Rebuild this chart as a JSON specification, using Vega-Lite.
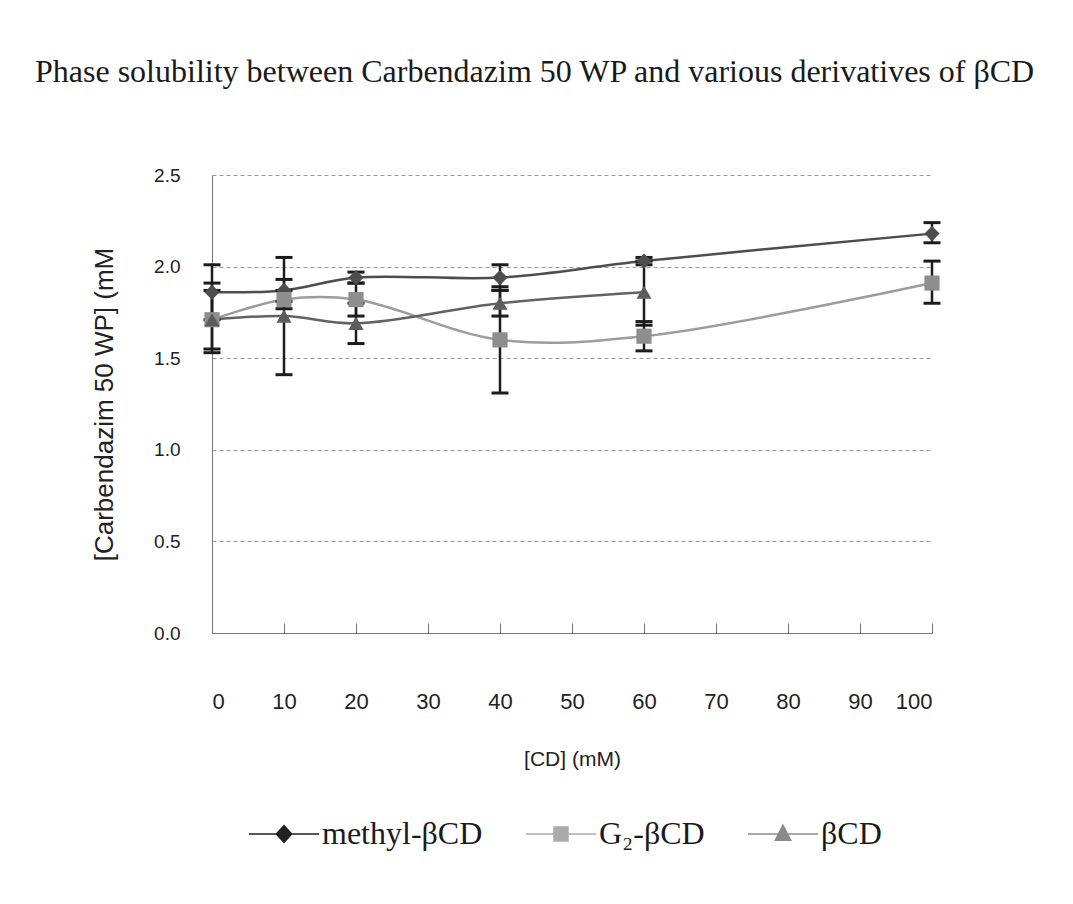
{
  "$schema": "https://vega.github.io/schema/vega-lite/v6.json",
  "autosize": "none",
  "width": 720,
  "height": 458,
  "padding": {"left": 212, "top": 175, "right": 141, "bottom": 271},
  "background": "white",
  "title": {
    "text": "Phase solubility between Carbendazim 50 WP and various derivatives of βCD",
    "anchor": "start",
    "frame": "group",
    "dx": -177,
    "offset": 52,
    "baseline": "alphabetic",
    "font": "Liberation Serif",
    "fontSize": 32,
    "fontWeight": "normal",
    "color": "#1a1a1a"
  },
  "config": {
    "view": {"stroke": null},
    "font": "Liberation Sans"
  },
  "data": {
    "values": [
      {"series": "methyl-βCD", "cd": 0, "y": 1.86, "lo": 1.71, "hi": 2.01},
      {"series": "methyl-βCD", "cd": 10, "y": 1.87, "lo": 1.81, "hi": 1.93},
      {"series": "methyl-βCD", "cd": 20, "y": 1.94, "lo": 1.91, "hi": 1.97},
      {"series": "methyl-βCD", "cd": 40, "y": 1.94, "lo": 1.87, "hi": 2.01},
      {"series": "methyl-βCD", "cd": 60, "y": 2.03, "lo": 2.01, "hi": 2.05},
      {"series": "methyl-βCD", "cd": 100, "y": 2.18, "lo": 2.13, "hi": 2.24},
      {"series": "G₂-βCD", "cd": 0, "y": 1.71, "lo": 1.53, "hi": 1.91},
      {"series": "G₂-βCD", "cd": 10, "y": 1.82, "lo": 1.77, "hi": 1.87},
      {"series": "G₂-βCD", "cd": 20, "y": 1.82, "lo": 1.73, "hi": 1.91},
      {"series": "G₂-βCD", "cd": 40, "y": 1.60, "lo": 1.31, "hi": 1.89},
      {"series": "G₂-βCD", "cd": 60, "y": 1.62, "lo": 1.54, "hi": 1.70},
      {"series": "G₂-βCD", "cd": 100, "y": 1.91, "lo": 1.80, "hi": 2.03},
      {"series": "βCD", "cd": 0, "y": 1.71, "lo": 1.55, "hi": 1.87},
      {"series": "βCD", "cd": 10, "y": 1.73, "lo": 1.41, "hi": 2.05},
      {"series": "βCD", "cd": 20, "y": 1.69, "lo": 1.58, "hi": 1.80},
      {"series": "βCD", "cd": 40, "y": 1.80, "lo": 1.73, "hi": 1.87},
      {"series": "βCD", "cd": 60, "y": 1.86, "lo": 1.68, "hi": 2.03}
    ]
  },
  "encoding": {
    "x": {
      "field": "cd",
      "type": "quantitative",
      "scale": {"domain": [0, 100], "nice": false, "zero": true},
      "axis": {
        "title": "[CD] (mM)",
        "values": [0, 10, 20, 30, 40, 50, 60, 70, 80, 90, 100],
        "grid": false,
        "domainColor": "#777",
        "tickColor": "#777",
        "tickSize": -10,
        "labelPadding": 68,
        "labelFont": "Liberation Sans",
        "labelFontSize": 22,
        "labelColor": "#222",
        "titleFont": "Liberation Sans",
        "titleFontSize": 21,
        "titleFontWeight": "normal",
        "titleColor": "#222",
        "titlePadding": 36
      }
    }
  },
  "layer": [
    {
      "mark": {"type": "line", "interpolate": "catmull-rom", "strokeWidth": 2.5},
      "encoding": {
        "y": {
          "field": "y",
          "type": "quantitative",
          "scale": {"domain": [0, 2.5], "nice": false},
          "axis": {
            "title": "[Carbendazim 50 WP] (mM",
            "values": [0, 0.5, 1, 1.5, 2, 2.5],
            "format": ".1f",
            "ticks": false,
            "grid": true,
            "gridDash": [4, 3],
            "gridColor": "#999",
            "domainColor": "#777",
            "labelPadding": 32,
            "labelFont": "Liberation Sans",
            "labelFontSize": 19,
            "labelColor": "#222",
            "titleFont": "Liberation Sans",
            "titleFontSize": 26,
            "titleFontWeight": "normal",
            "titleColor": "#222",
            "titlePadding": 36
          }
        },
        "color": {
          "field": "series",
          "type": "nominal",
          "scale": {"domain": ["methyl-βCD", "G₂-βCD", "βCD"], "range": ["#4d4d4d", "#9c9c9c", "#626262"]},
          "legend": null
        }
      }
    },
    {
      "mark": {"type": "rule", "strokeWidth": 2.5, "color": "#1c1c1c"},
      "encoding": {
        "y": {"field": "lo", "type": "quantitative"},
        "y2": {"field": "hi"}
      }
    },
    {
      "mark": {"type": "tick", "orient": "horizontal", "size": 17, "thickness": 3, "color": "#1c1c1c", "opacity": 1},
      "encoding": {"y": {"field": "lo", "type": "quantitative"}}
    },
    {
      "mark": {"type": "tick", "orient": "horizontal", "size": 17, "thickness": 3, "color": "#1c1c1c", "opacity": 1},
      "encoding": {"y": {"field": "hi", "type": "quantitative"}}
    },
    {
      "mark": {"type": "point", "filled": true, "opacity": 1, "size": 230},
      "encoding": {
        "y": {"field": "y", "type": "quantitative"},
        "shape": {
          "field": "series",
          "type": "nominal",
          "scale": {"domain": ["methyl-βCD", "G₂-βCD", "βCD"], "range": ["diamond", "square", "triangle-up"]},
          "legend": null
        },
        "fill": {
          "field": "series",
          "type": "nominal",
          "scale": {"domain": ["methyl-βCD", "G₂-βCD", "βCD"], "range": ["#4d4d4d", "#8e8e8e", "#5c5c5c"]},
          "legend": null
        }
      }
    },
    {
      "transform": [{"filter": "false"}],
      "mark": {"type": "point", "filled": true, "opacity": 1, "strokeWidth": 1.5},
      "encoding": {
        "y": {"field": "y", "type": "quantitative"},
        "shape": {
          "field": "series",
          "type": "nominal",
          "scale": {"domain": ["methyl-βCD", "G₂-βCD", "βCD"], "range": ["M-1,0H1M0,-0.24L0.22,0L0,0.24L-0.22,0Z", "M-1,0H1M-0.2,-0.2H0.2V0.2H-0.2Z", "M-1,0H1M0,-0.25L0.22,0.18H-0.22Z"]},
          "legend": {
            "orient": "none",
            "legendX": 36,
            "legendY": 623,
            "direction": "horizontal",
            "columns": 3,
            "title": null,
            "symbolSize": 4900,
            "symbolStrokeWidth": 1.5,
            "columnPadding": 40,
            "labelOffset": 2,
            "labelFont": "Liberation Serif",
            "labelFontSize": 32,
            "labelColor": "#1a1a1a",
            "labelBaseline": "middle",
            "labelLimit": 400
          }
        },
        "fill": {
          "field": "series",
          "type": "nominal",
          "scale": {"domain": ["methyl-βCD", "G₂-βCD", "βCD"], "range": ["#222222", "#aaaaaa", "#8a8a8a"]},
          "legend": null
        },
        "stroke": {
          "field": "series",
          "type": "nominal",
          "scale": {"domain": ["methyl-βCD", "G₂-βCD", "βCD"], "range": ["#222222", "#aaaaaa", "#8a8a8a"]},
          "legend": null
        }
      }
    }
  ],
  "resolve": {"scale": {"color": "independent", "shape": "independent", "fill": "independent", "stroke": "independent"}}
}
